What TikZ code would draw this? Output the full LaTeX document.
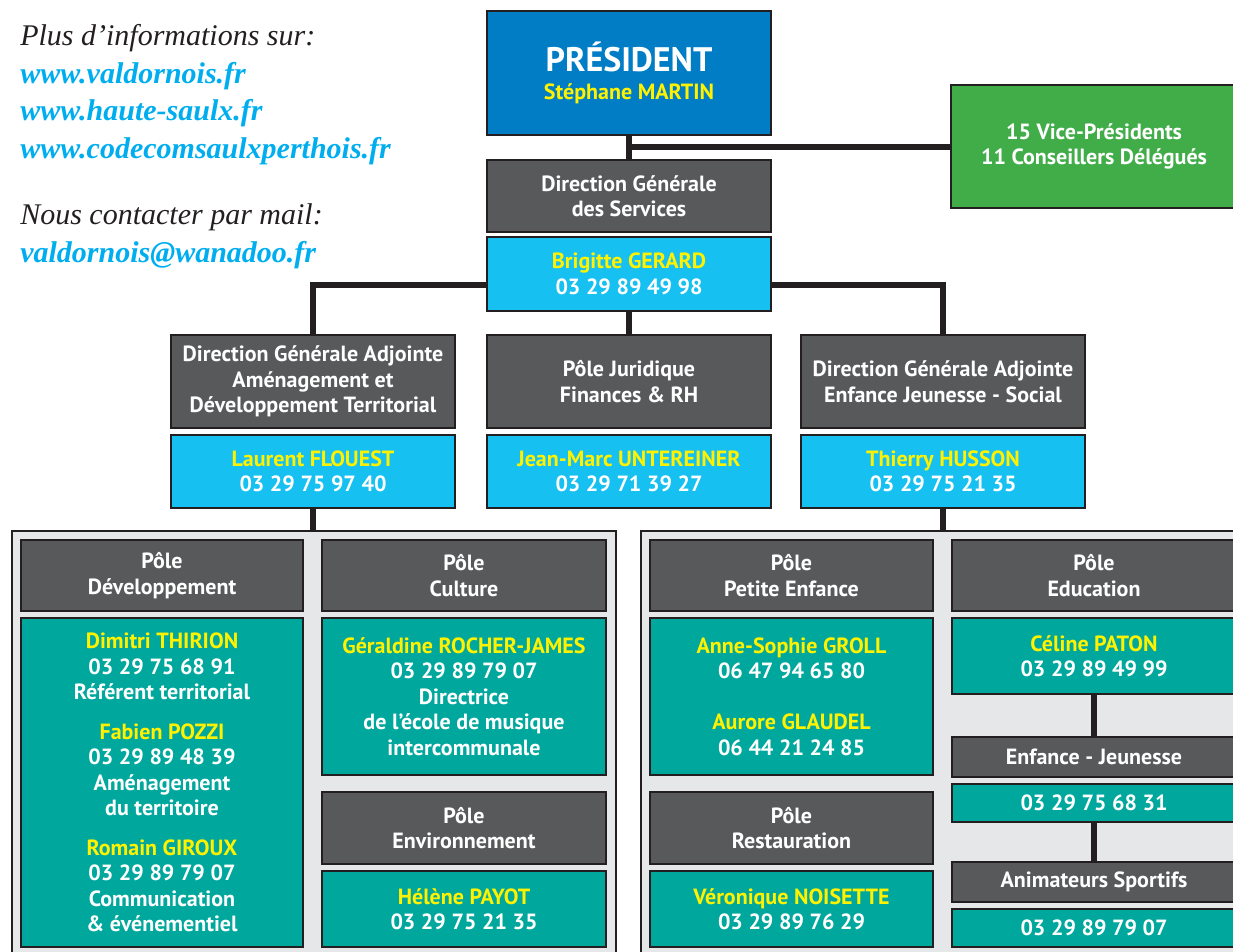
\documentclass[tikz,border=0pt]{standalone}
\usepackage{fontspec}
\setmainfont{PT Sans}
\newfontfamily\seriffont{Liberation Serif}
\usepackage{xcolor}
\usepackage{tikz}

\newcommand{\nomJaune}[1]{\textcolor{jauneVif}{#1}}

\begin{document}
\begin{tikzpicture}[x=1pt, y=-1pt,
  every node/.style={draw=noirTrait, line width=2.6pt, inner sep=0pt, align=center, text=white,
    font=\bfseries\fontsize{22}{25.5}\selectfont},
  gris/.style={fill=grisFonce},
  cyan/.style={fill=cyanClair},
  sarcelle/.style={fill=vertEau},
  panneau/.style={fill=grisClair, draw=noirTrait, line width=2.2pt, anchor=north west},
  titre/.style={draw=none, anchor=base west, text=noirTrait, font=\seriffont\itshape\fontsize{30}{32}\selectfont},
  lien/.style={titre, text=bleuLien, font=\seriffont\itshape\bfseries\fontsize{30}{32}\selectfont},
  trait/.style={draw=noirTrait, line width=6pt}]
  \definecolor{bleuFonce}{RGB}{0,125,197}
  \definecolor{vertDoux}{RGB}{65,173,73}
  \definecolor{grisFonce}{RGB}{88,89,91}
  \definecolor{cyanClair}{RGB}{22,192,240}
  \definecolor{vertEau}{RGB}{0,167,157}
  \definecolor{jauneVif}{RGB}{255,242,0}
  \definecolor{grisClair}{RGB}{230,231,232}
  \definecolor{noirTrait}{RGB}{35,31,32}
  \definecolor{bleuLien}{RGB}{0,174,239}

  \useasboundingbox (0,0) rectangle (1233,951);

  \node[titre] (infoTitre)    at (19,45)  {Plus d’informations sur:};
  \node[lien]  (site1)        at (19,83)  {www.valdornois.fr};
  \node[lien]  (site2)        at (19,120) {www.haute-saulx.fr};
  \node[lien]  (site3)        at (19,158) {www.codecomsaulxperthois.fr};
  \node[titre] (contactTitre) at (19,224) {Nous contacter par mail:};
  \node[lien]  (mail)         at (19,262) {valdornois@wanadoo.fr};

  \node[fill=bleuFonce, minimum width=284, minimum height=124, font=\bfseries\fontsize{34}{28}\selectfont] (pres) at (629,73)
    {PRÉSIDENT\\{\fontsize{22}{22}\selectfont\nomJaune{Stéphane MARTIN}}};
  \node[fill=vertDoux, minimum width=286, minimum height=123] (vp) at (1094,146.5) {15 Vice-Présidents\\11 Conseillers Délégués};
  \node[gris, minimum width=284, minimum height=72] (dgs) at (629,196) {Direction Générale\\des Services};
  \node[cyan, minimum width=284, minimum height=74] (brig) at (629,274) {\nomJaune{Brigitte GERARD}\\03 29 89 49 98};

  \node[gris, minimum width=284, minimum height=93] (dgaAmen) at (313,381.5) {Direction Générale Adjointe\\Aménagement et\\Développement Territorial};
  \node[gris, minimum width=284, minimum height=93] (pjur)    at (629,381.5) {Pôle Juridique\\Finances \& RH};
  \node[gris, minimum width=284, minimum height=93] (dgaEnf)  at (943,381.5) {Direction Générale Adjointe\\Enfance Jeunesse - Social};
  \node[cyan, minimum width=284, minimum height=73] (flouest)    at (313,471.5) {\nomJaune{Laurent FLOUEST}\\03 29 75 97 40};
  \node[cyan, minimum width=284, minimum height=73] (untereiner) at (629,471.5) {\nomJaune{Jean-Marc UNTEREINER}\\03 29 71 39 27};
  \node[cyan, minimum width=284, minimum height=73] (husson)     at (943,471.5) {\nomJaune{Thierry HUSSON}\\03 29 75 21 35};

  \node[panneau, minimum width=604, minimum height=440] (panGauche) at (11,530) {};
  \node[panneau, minimum width=610, minimum height=440] (panDroit)  at (640,530) {};

  \node[gris, minimum width=282, minimum height=71] (poleDev)  at (162,575.5) {Pôle\\Développement};
  \node[gris, minimum width=284, minimum height=71] (poleCult) at (464,575.5) {Pôle\\Culture};
  \node[gris, minimum width=283, minimum height=71] (polePE)   at (791.5,575.5) {Pôle\\Petite Enfance};
  \node[gris, minimum width=284, minimum height=71] (poleEdu)  at (1094,575.5) {Pôle\\Education};

  \node[sarcelle, minimum width=282, minimum height=329] (equipeDev) at (162,782.5)
    {\nomJaune{Dimitri THIRION}\\03 29 75 68 91\\Référent territorial\\[14pt]
     \nomJaune{Fabien POZZI}\\03 29 89 48 39\\Aménagement\\du territoire\\[14pt]
     \nomJaune{Romain GIROUX}\\03 29 89 79 07\\Communication\\\& événementiel};
  \node[sarcelle, minimum width=284, minimum height=157] (equipeCult) at (464,696.5)
    {\nomJaune{Géraldine ROCHER-JAMES}\\03 29 89 79 07\\Directrice\\de l’école de musique\\intercommunale};
  \node[gris, minimum width=284, minimum height=72] (poleEnv) at (464,828) {Pôle\\Environnement};
  \node[sarcelle, minimum width=284, minimum height=76] (equipeEnv) at (464,909) {\nomJaune{Hélène PAYOT}\\03 29 75 21 35};

  \node[sarcelle, minimum width=283, minimum height=157] (equipePE) at (791.5,696.5)
    {\nomJaune{Anne-Sophie GROLL}\\06 47 94 65 80\\[25.5pt]\nomJaune{Aurore GLAUDEL}\\06 44 21 24 85};
  \node[gris, minimum width=283, minimum height=72] (poleRest) at (791.5,828) {Pôle\\Restauration};
  \node[sarcelle, minimum width=283, minimum height=76] (equipeRest) at (791.5,909) {\nomJaune{Véronique NOISETTE}\\03 29 89 76 29};

  \node[sarcelle, minimum width=284, minimum height=76] (paton) at (1094,656) {\nomJaune{Céline PATON}\\03 29 89 49 99};
  \node[gris, minimum width=284, minimum height=40] (enfJeu)  at (1094,757) {Enfance - Jeunesse};
  \node[sarcelle, minimum width=284, minimum height=38] (telEJ) at (1094,803) {03 29 75 68 31};
  \node[gris, minimum width=284, minimum height=40] (animSport) at (1094,882) {Animateurs Sportifs};
  \node[sarcelle, minimum width=284, minimum height=38] (telAS) at (1094,928) {03 29 89 79 07};

  \draw[trait] (pres.south) -- (dgs.north);
  \draw[trait] (pres.south |- vp.west) -- (vp.west);
  \draw[trait] (brig.south) -- (pjur.north);
  \draw[trait] (dgaAmen.north) |- ([yshift=-11pt]brig.west);
  \draw[trait] ([yshift=-11pt]brig.east) -| (dgaEnf.north);
  \draw[trait] (flouest.south) -- (flouest.south |- panGauche.north);
  \draw[trait] (husson.south) -- (husson.south |- panDroit.north);
  \draw[trait] (paton.south) -- (enfJeu.north);
  \draw[trait] (telEJ.south) -- (animSport.north);
\end{tikzpicture}
\end{document}
